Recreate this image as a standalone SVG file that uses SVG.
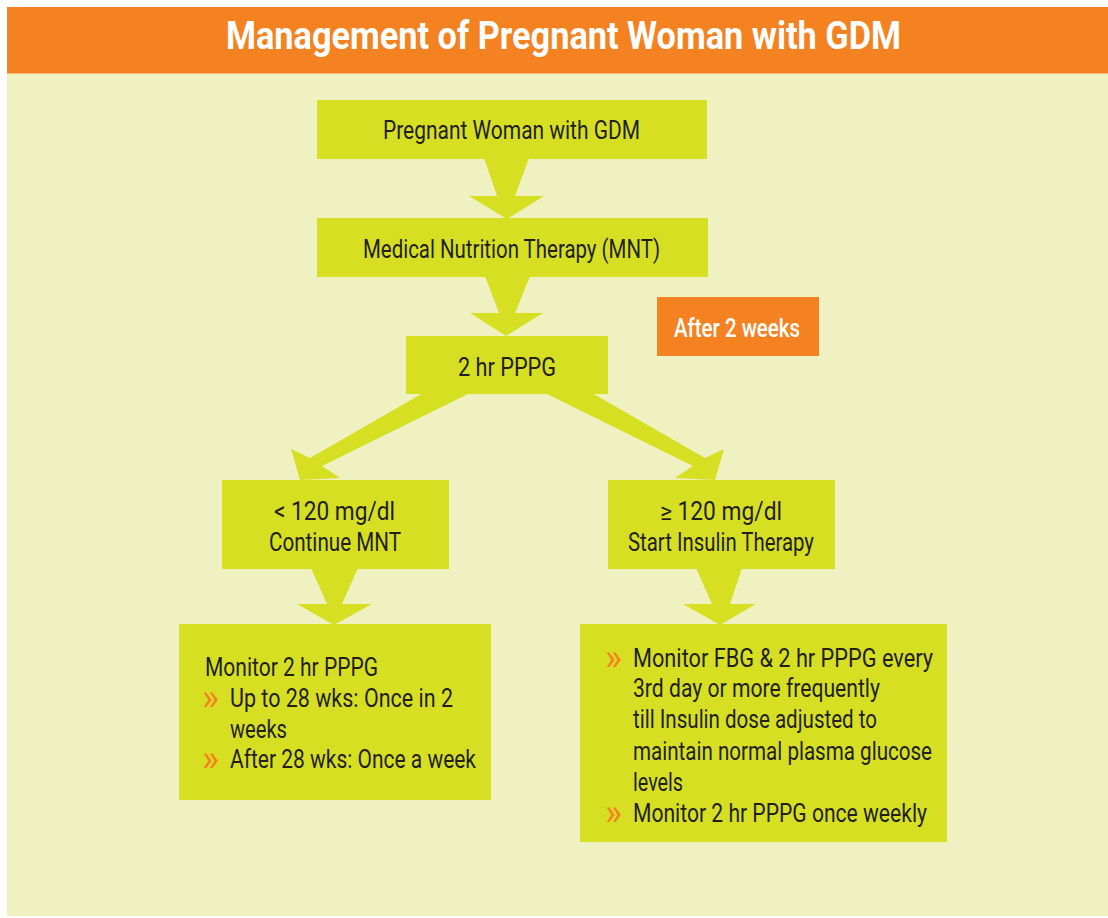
<svg xmlns="http://www.w3.org/2000/svg" width="1108" height="918" viewBox="0 0 1108 918">
  <defs>
    <style>
      .box { fill: #D7DF23; }
      .conn { fill: #D7DF23; }
      .t { font-family: Roboto, "Noto Sans", "Liberation Sans", sans-serif; font-size: 25px; fill: #231F20; }
      .chev { font-family: Roboto, "Noto Sans", "Liberation Sans", sans-serif; font-size: 36px; fill: #F58220; }
      .title { font-family: Roboto, "Noto Sans", "Liberation Sans", sans-serif; font-size: 38px; font-weight: bold; fill: #FFFFFF; text-anchor: middle; }
      .white { font-family: Roboto, "Noto Sans", "Liberation Sans", sans-serif; font-size: 25px; font-weight: 500; fill: #FFFFFF; }
    </style>
  </defs>
  <rect x="0" y="0" width="1108" height="918" fill="#FFFFFF"/>
  <rect x="7" y="73" width="1101" height="843" fill="#EFF1C1"/>
  <g id="header">
    <rect x="7" y="7" width="1101" height="66" fill="#F58220"/>
    <rect x="7" y="73" width="1101" height="1" fill="#F8B878"/>
    <text class="title" x="563.5" y="49" textLength="675" lengthAdjust="spacingAndGlyphs">Management of Pregnant Woman with GDM</text>
  </g>
  <g id="connectors">
    <polygon class="conn" points="484,158 529,158 515,196 544,196 507,219 469,196 497,196"/>
    <polygon class="conn" points="485,276 530,276 515,313 543,313 506,336 470,313 499,313"/>
    <polygon class="conn" points="423,393 470,393 322,466 340,478 300,480 291,449 310,458"/>
    <polygon class="conn" points="545,393 592,393 705,458 724,449 715,480 675,478 693,466"/>
    <polygon class="conn" points="311,568 358,568 342,604 372,604 334,625 297,604 327,604"/>
    <polygon class="conn" points="696,568 742,568 730,604 756,604 720,625 683,604 712,604"/>
  </g>
  <g id="node-pregnant">
    <rect class="box" x="317" y="100" width="390" height="59"/>
    <text class="t" x="383" y="139" textLength="257" lengthAdjust="spacingAndGlyphs">Pregnant Woman with GDM</text>
  </g>
  <g id="node-mnt">
    <rect class="box" x="317" y="218" width="391" height="59"/>
    <text class="t" x="363" y="258" textLength="297" lengthAdjust="spacingAndGlyphs">Medical Nutrition Therapy (MNT)</text>
  </g>
  <g id="node-after2weeks">
    <rect x="657" y="297" width="162" height="59" fill="#F58220"/>
    <text class="white" x="674" y="337" textLength="126" lengthAdjust="spacingAndGlyphs">After 2 weeks</text>
  </g>
  <g id="node-pppg">
    <rect class="box" x="406" y="336" width="202" height="58"/>
    <text class="t" x="458" y="376" textLength="98" lengthAdjust="spacingAndGlyphs">2 hr PPPG</text>
  </g>
  <g id="node-lt120">
    <rect class="box" x="222" y="480" width="227" height="89"/>
    <text class="t" x="274" y="520" textLength="121" lengthAdjust="spacingAndGlyphs">&lt; 120 mg/dl</text>
    <text class="t" x="269" y="551" textLength="132" lengthAdjust="spacingAndGlyphs">Continue MNT</text>
  </g>
  <g id="node-ge120">
    <rect class="box" x="608" y="480" width="227" height="89"/>
    <text class="t" x="660" y="520" textLength="122" lengthAdjust="spacingAndGlyphs">≥ 120 mg/dl</text>
    <text class="t" x="628" y="551" textLength="186" lengthAdjust="spacingAndGlyphs">Start Insulin Therapy</text>
  </g>
  <g id="node-monitor-left">
    <rect class="box" x="179" y="624" width="312" height="176"/>
    <text class="t" x="205" y="676" textLength="173" lengthAdjust="spacingAndGlyphs">Monitor 2 hr PPPG</text>
    <text class="chev" x="202" y="710" textLength="17" lengthAdjust="spacingAndGlyphs">»</text>
    <text class="t" x="230" y="707" textLength="223" lengthAdjust="spacingAndGlyphs">Up to 28 wks: Once in 2</text>
    <text class="t" x="230" y="738" textLength="57" lengthAdjust="spacingAndGlyphs">weeks</text>
    <text class="chev" x="202" y="771" textLength="17" lengthAdjust="spacingAndGlyphs">»</text>
    <text class="t" x="230" y="768" textLength="246" lengthAdjust="spacingAndGlyphs">After 28 wks: Once a week</text>
  </g>
  <g id="node-monitor-right">
    <rect class="box" x="580" y="624" width="367" height="218"/>
    <text class="chev" x="605" y="670" textLength="17" lengthAdjust="spacingAndGlyphs">»</text>
    <text class="t" x="633" y="667" textLength="300" lengthAdjust="spacingAndGlyphs">Monitor FBG &amp; 2 hr PPPG every</text>
    <text class="t" x="633" y="697" textLength="247" lengthAdjust="spacingAndGlyphs">3rd day or more frequently</text>
    <text class="t" x="633" y="728" textLength="244" lengthAdjust="spacingAndGlyphs">till Insulin dose adjusted to</text>
    <text class="t" x="633" y="760" textLength="299" lengthAdjust="spacingAndGlyphs">maintain normal plasma glucose</text>
    <text class="t" x="633" y="791" textLength="50" lengthAdjust="spacingAndGlyphs">levels</text>
    <text class="chev" x="605" y="825" textLength="17" lengthAdjust="spacingAndGlyphs">»</text>
    <text class="t" x="633" y="822" textLength="294" lengthAdjust="spacingAndGlyphs">Monitor 2 hr PPPG once weekly</text>
  </g>
</svg>
